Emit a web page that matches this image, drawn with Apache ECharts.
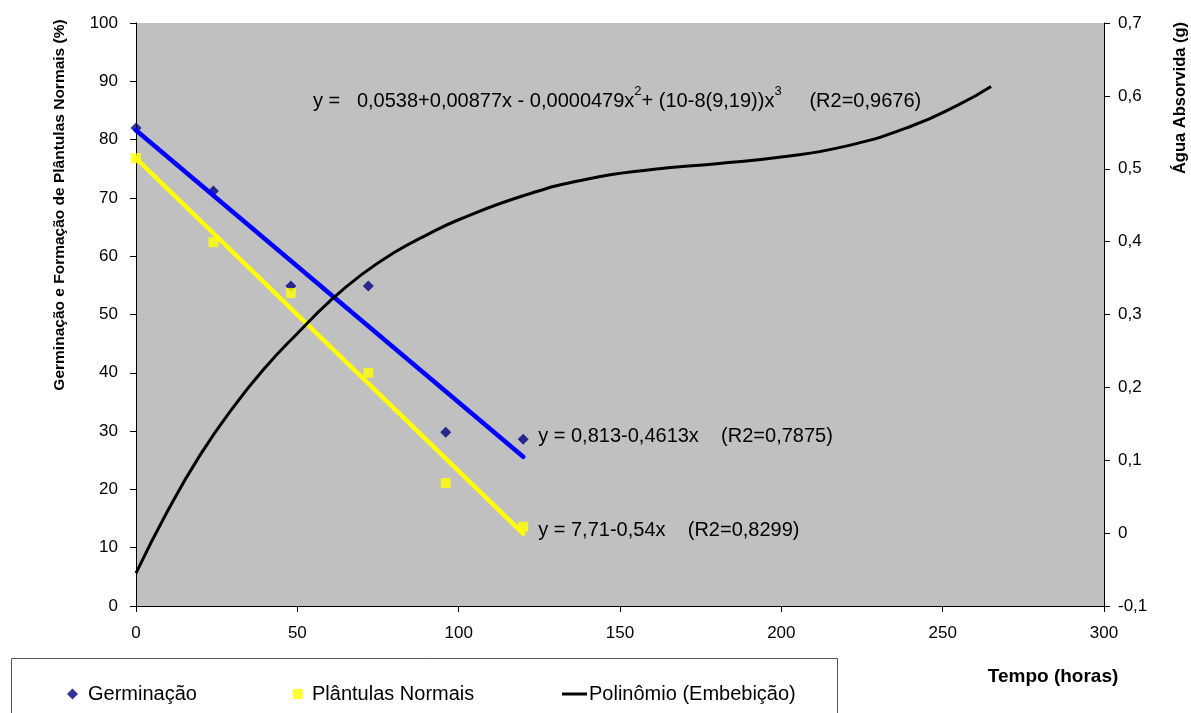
<!DOCTYPE html>
<html>
<head>
<meta charset="utf-8">
<script src="https://cdn.jsdelivr.net/npm/echarts@6/dist/echarts.min.js"></script>
<style>
html,body{margin:0;padding:0;background:#fff;}
#chart{width:1191px;height:713px;}
</style>
</head>
<body>
<div id="chart"></div>
<script>
// ---- data ----
var timeHours = [0, 24, 48, 72, 96, 120];
var germinacao = [82.0, 71.2, 54.9, 54.9, 29.8, 28.6];
var plantulas = [76.8, 62.4, 53.7, 40.0, 21.1, 13.6];
// linear trend lines (x, %)
var trendGermX = [0, 120];
var trendGermY = [81.6, 25.6];
var trendPlantX = [0, 120];
var trendPlantY = [76.8, 12.4];
// polynomial (embebição), water absorbed (g)
var polyX = [0, 10, 20, 30, 40, 50, 60, 70, 80, 90, 100, 120, 140, 160, 180, 200, 220, 240, 255, 265];
var polyY = [-0.055, 0.032, 0.108, 0.172, 0.227, 0.274, 0.318, 0.355, 0.385, 0.409, 0.430, 0.463, 0.486, 0.499, 0.507, 0.516, 0.531, 0.558, 0.588, 0.613];
var xTicks = {min: 0, max: 300, interval: 50};
var leftTicks = {min: 0, max: 100, interval: 10};
var rightTicks = {min: -0.1, max: 0.7, interval: 0.1};

function zip(a, b) { return a.map(function (v, i) { return [v, b[i]]; }); }

var FONT = 'Liberation Sans, Arial, sans-serif';
var chart = echarts.init(document.getElementById('chart'));

function axisCommon() {
  return {
    axisLine: {show: true, onZero: false, lineStyle: {color: '#000', width: 1}},
    axisTick: {show: true, inside: false, length: 6, lineStyle: {color: '#000'}},
    splitLine: {show: false},
    axisLabel: {color: '#000', fontSize: 17, fontFamily: FONT, margin: 14}
  };
}

var xAxis = Object.assign(axisCommon(), {
  type: 'value', min: xTicks.min, max: xTicks.max, interval: xTicks.interval, position: 'bottom'
});
xAxis.axisLabel.margin = 19;
var yLeft = Object.assign(axisCommon(), {
  type: 'value', min: leftTicks.min, max: leftTicks.max, interval: leftTicks.interval, position: 'left'
});
yLeft.axisLabel.margin = 18;
var yRight = Object.assign(axisCommon(), {
  type: 'value', min: rightTicks.min, max: rightTicks.max, interval: rightTicks.interval, position: 'right'
});
yRight.axisLabel.margin = 14;
yRight.axisLabel.formatter = function (v) {
  if (Math.abs(v) < 1e-9) return '0';
  return v.toFixed(1).replace('.', ',');
};

var LEG_FS = 20;
var option = {
  animation: false,
  backgroundColor: '#fff',
  textStyle: {fontFamily: FONT},
  grid: {left: 136, right: 87, top: 23, bottom: 107, show: true, backgroundColor: '#C0C0C0', borderWidth: 0},
  xAxis: xAxis,
  yAxis: [yLeft, yRight],
  legend: [
    {
      left: 62, top: 679, itemWidth: 11, itemHeight: 11,
      data: [{name: 'Germinação', icon: 'diamond'}],
      textStyle: {color: '#000', fontSize: LEG_FS, fontFamily: FONT, padding: [0, 0, 0, 5]}
    },
    {
      left: 288, top: 679, itemWidth: 10, itemHeight: 10,
      data: [{name: 'Plântulas Normais', icon: 'rect'}],
      textStyle: {color: '#000', fontSize: LEG_FS, fontFamily: FONT, padding: [0, 0, 0, 4]}
    },
    {
      left: 557, top: 679, itemWidth: 25, itemHeight: 3,
      data: [{name: 'Polinômio (Embebição)', icon: 'rect'}],
      textStyle: {color: '#000', fontSize: LEG_FS, fontFamily: FONT, padding: [0, 0, 0, -3]}
    }
  ],
  series: [
    {
      name: 'Germinação', type: 'scatter', xAxisIndex: 0, yAxisIndex: 0,
      symbol: 'diamond', symbolSize: 11, itemStyle: {color: '#000080'},
      data: zip(timeHours, germinacao), z: 2
    },
    {
      name: 'Plântulas Normais', type: 'scatter', xAxisIndex: 0, yAxisIndex: 0,
      symbol: 'rect', symbolSize: 10, itemStyle: {color: '#FFFF00'},
      data: zip(timeHours, plantulas), z: 2
    },
    {
      name: 'trendGerm', type: 'line', xAxisIndex: 0, yAxisIndex: 0,
      showSymbol: false, symbol: 'none', z: 3,
      lineStyle: {color: '#0000FF', width: 4.5, cap: 'round'}, itemStyle: {color: '#0000FF'},
      data: zip(trendGermX, trendGermY),
      endLabel: {show: true, formatter: 'y = 0,813-0,4613x    (R2=0,7875)', color: '#000', fontSize: 20, fontFamily: FONT, distance: 15, offset: [0, -20]}
    },
    {
      name: 'trendPlant', type: 'line', xAxisIndex: 0, yAxisIndex: 0,
      showSymbol: false, symbol: 'none', z: 3,
      lineStyle: {color: '#FFFF00', width: 4.5, cap: 'round'}, itemStyle: {color: '#FFFF00'},
      data: zip(trendPlantX, trendPlantY),
      endLabel: {show: true, formatter: 'y = 7,71-0,54x    (R2=0,8299)', color: '#000', fontSize: 20, fontFamily: FONT, distance: 15, offset: [0, -3]}
    },
    {
      name: 'Polinômio (Embebição)', type: 'line', xAxisIndex: 0, yAxisIndex: 1,
      showSymbol: false, symbol: 'none', smooth: 0.5, z: 4,
      lineStyle: {color: '#000', width: 3}, itemStyle: {color: '#000'},
      data: zip(polyX, polyY)
    }
  ],
  graphic: [
    {
      type: 'text', x: 60, y: 205, rotation: Math.PI / 2,
      style: {text: 'Germinação e Formação de Plântulas Normais (%)', font: 'bold 15.5px ' + FONT, fill: '#000', align: 'center', verticalAlign: 'middle'}
    },
    {
      type: 'text', x: 1180, y: 98, rotation: Math.PI / 2,
      style: {text: 'Água Absorvida (g)', font: 'bold 16.5px ' + FONT, fill: '#000', align: 'center', verticalAlign: 'middle'}
    },
    {
      type: 'text', x: 1053, y: 677,
      style: {text: 'Tempo (horas)', font: 'bold 19px ' + FONT, fill: '#000', align: 'center', verticalAlign: 'middle'}
    },
    {
      type: 'text', x: 313, y: 98,
      style: {
        text: '{n|y =   0,0538+0,00877x - 0,0000479x}{s|2}{n|+ (10-8(9,19))x}{s|3}{n|     (R2=0,9676)}',
        align: 'left', verticalAlign: 'middle',
        rich: {
          n: {fontSize: 20, fontFamily: FONT, fill: '#000', color: '#000', lineHeight: 26, verticalAlign: 'bottom'},
          s: {fontSize: 13, fontFamily: FONT, fill: '#000', color: '#000', lineHeight: 26, verticalAlign: 'top'}
        }
      }
    },
    {
      type: 'rect', shape: {x: 11.5, y: 658.5, width: 826, height: 60},
      style: {fill: 'none', stroke: '#555', lineWidth: 1}, z: -1
    }
  ]
};
chart.setOption(option);
</script>
</body>
</html>
